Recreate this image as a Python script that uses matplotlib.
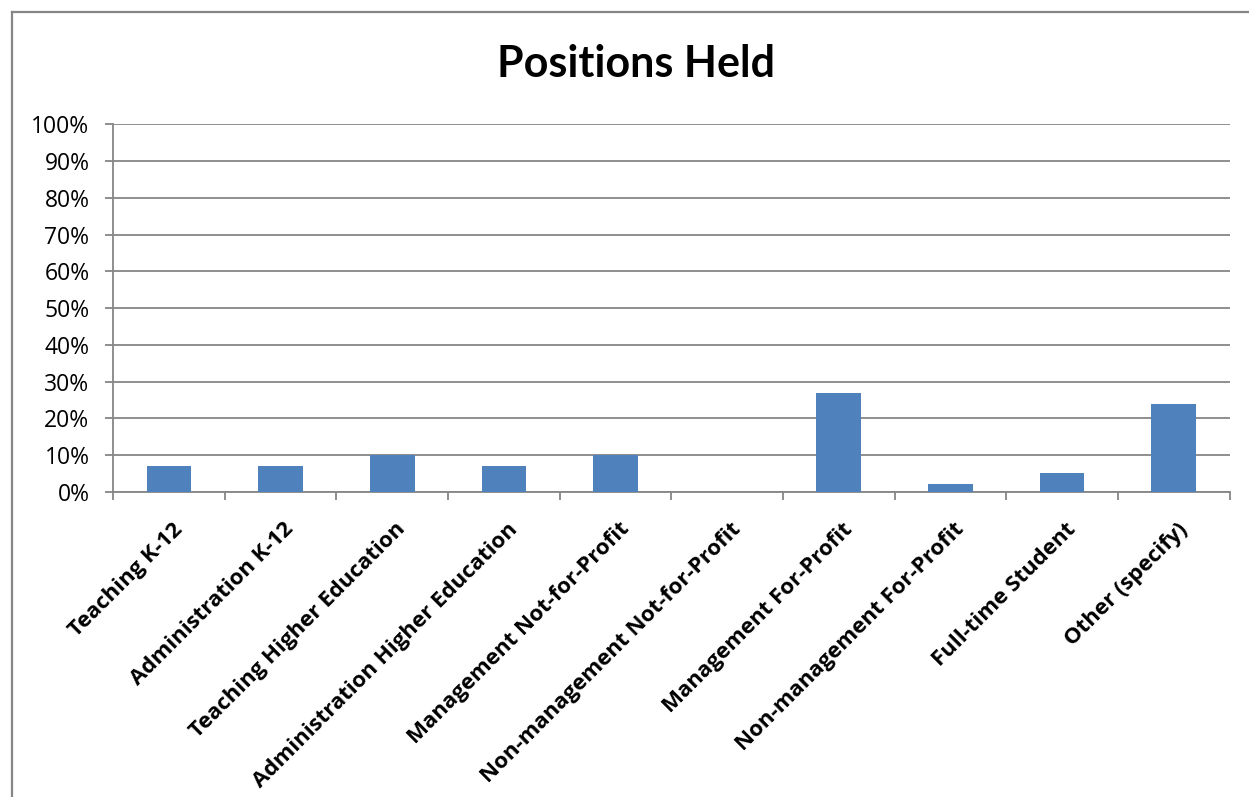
import matplotlib.pyplot as plt
import matplotlib.transforms as mtransforms
from matplotlib.lines import Line2D
from matplotlib.ticker import PercentFormatter

categories = [
    "Teaching K-12",
    "Administration K-12",
    "Teaching Higher Education",
    "Administration Higher Education",
    "Management Not-for-Profit",
    "Non-management Not-for-Profit",
    "Management For-Profit",
    "Non-management For-Profit",
    "Full-time Student",
    "Other (specify)",
]
shares = [7, 7, 10, 7, 10, 0, 27, 2, 5, 24]
y_ticks = list(range(0, 101, 10))

plt.rcParams['font.family'] = ['Open Sans', 'DejaVu Sans']
grey = "#868686"

fig = plt.figure(figsize=(12.49, 7.97), dpi=100)
ax = fig.add_axes([0.0905, 0.383, 0.894, 0.461])

x = range(len(categories))
ax.bar(x, shares, width=0.4, color="#4F81BD", zorder=3)

ax.set_xlim(-0.5, len(categories) - 0.5)
ax.set_ylim(0, 100)
ax.set_yticks(y_ticks)
ax.yaxis.set_major_formatter(PercentFormatter(decimals=0))
ax.grid(axis="y", color=grey, linewidth=1.3, zorder=0)
ax.tick_params(axis="y", length=6, width=1.3, color=grey, pad=11, labelsize=16.5)

# tick marks on category boundaries, labels at bar centres
ax.set_xticks([i - 0.5 for i in range(len(categories) + 1)])
ax.set_xticklabels([])
ax.tick_params(axis="x", length=6, width=1.3, color=grey)
offset = mtransforms.ScaledTranslation(0.03, -0.27, fig.dpi_scale_trans)
for i, name in enumerate(categories):
    ax.text(i, 0, name, rotation=45, ha="right", va="top", rotation_mode="anchor",
            fontsize=16, fontweight="bold",
            transform=ax.get_xaxis_transform() + offset)

for side in ["top", "right"]:
    ax.spines[side].set_visible(False)
for side in ["left", "bottom"]:
    ax.spines[side].set_color(grey)
    ax.spines[side].set_linewidth(1.3)

fig.text(636 / 1249, 1 - 64 / 797, "Positions Held", ha="center", va="center",
         fontsize=31, fontweight="bold", family=["Lato", "DejaVu Sans"])

# chart area frame
fig.add_artist(Line2D([12 / 1249, 12 / 1249], [0, 1 - 12 / 797], color=grey, linewidth=1.6))
fig.add_artist(Line2D([12 / 1249, 1], [1 - 12 / 797, 1 - 12 / 797], color=grey, linewidth=1.6))

fig.savefig("out.png", dpi=100)
